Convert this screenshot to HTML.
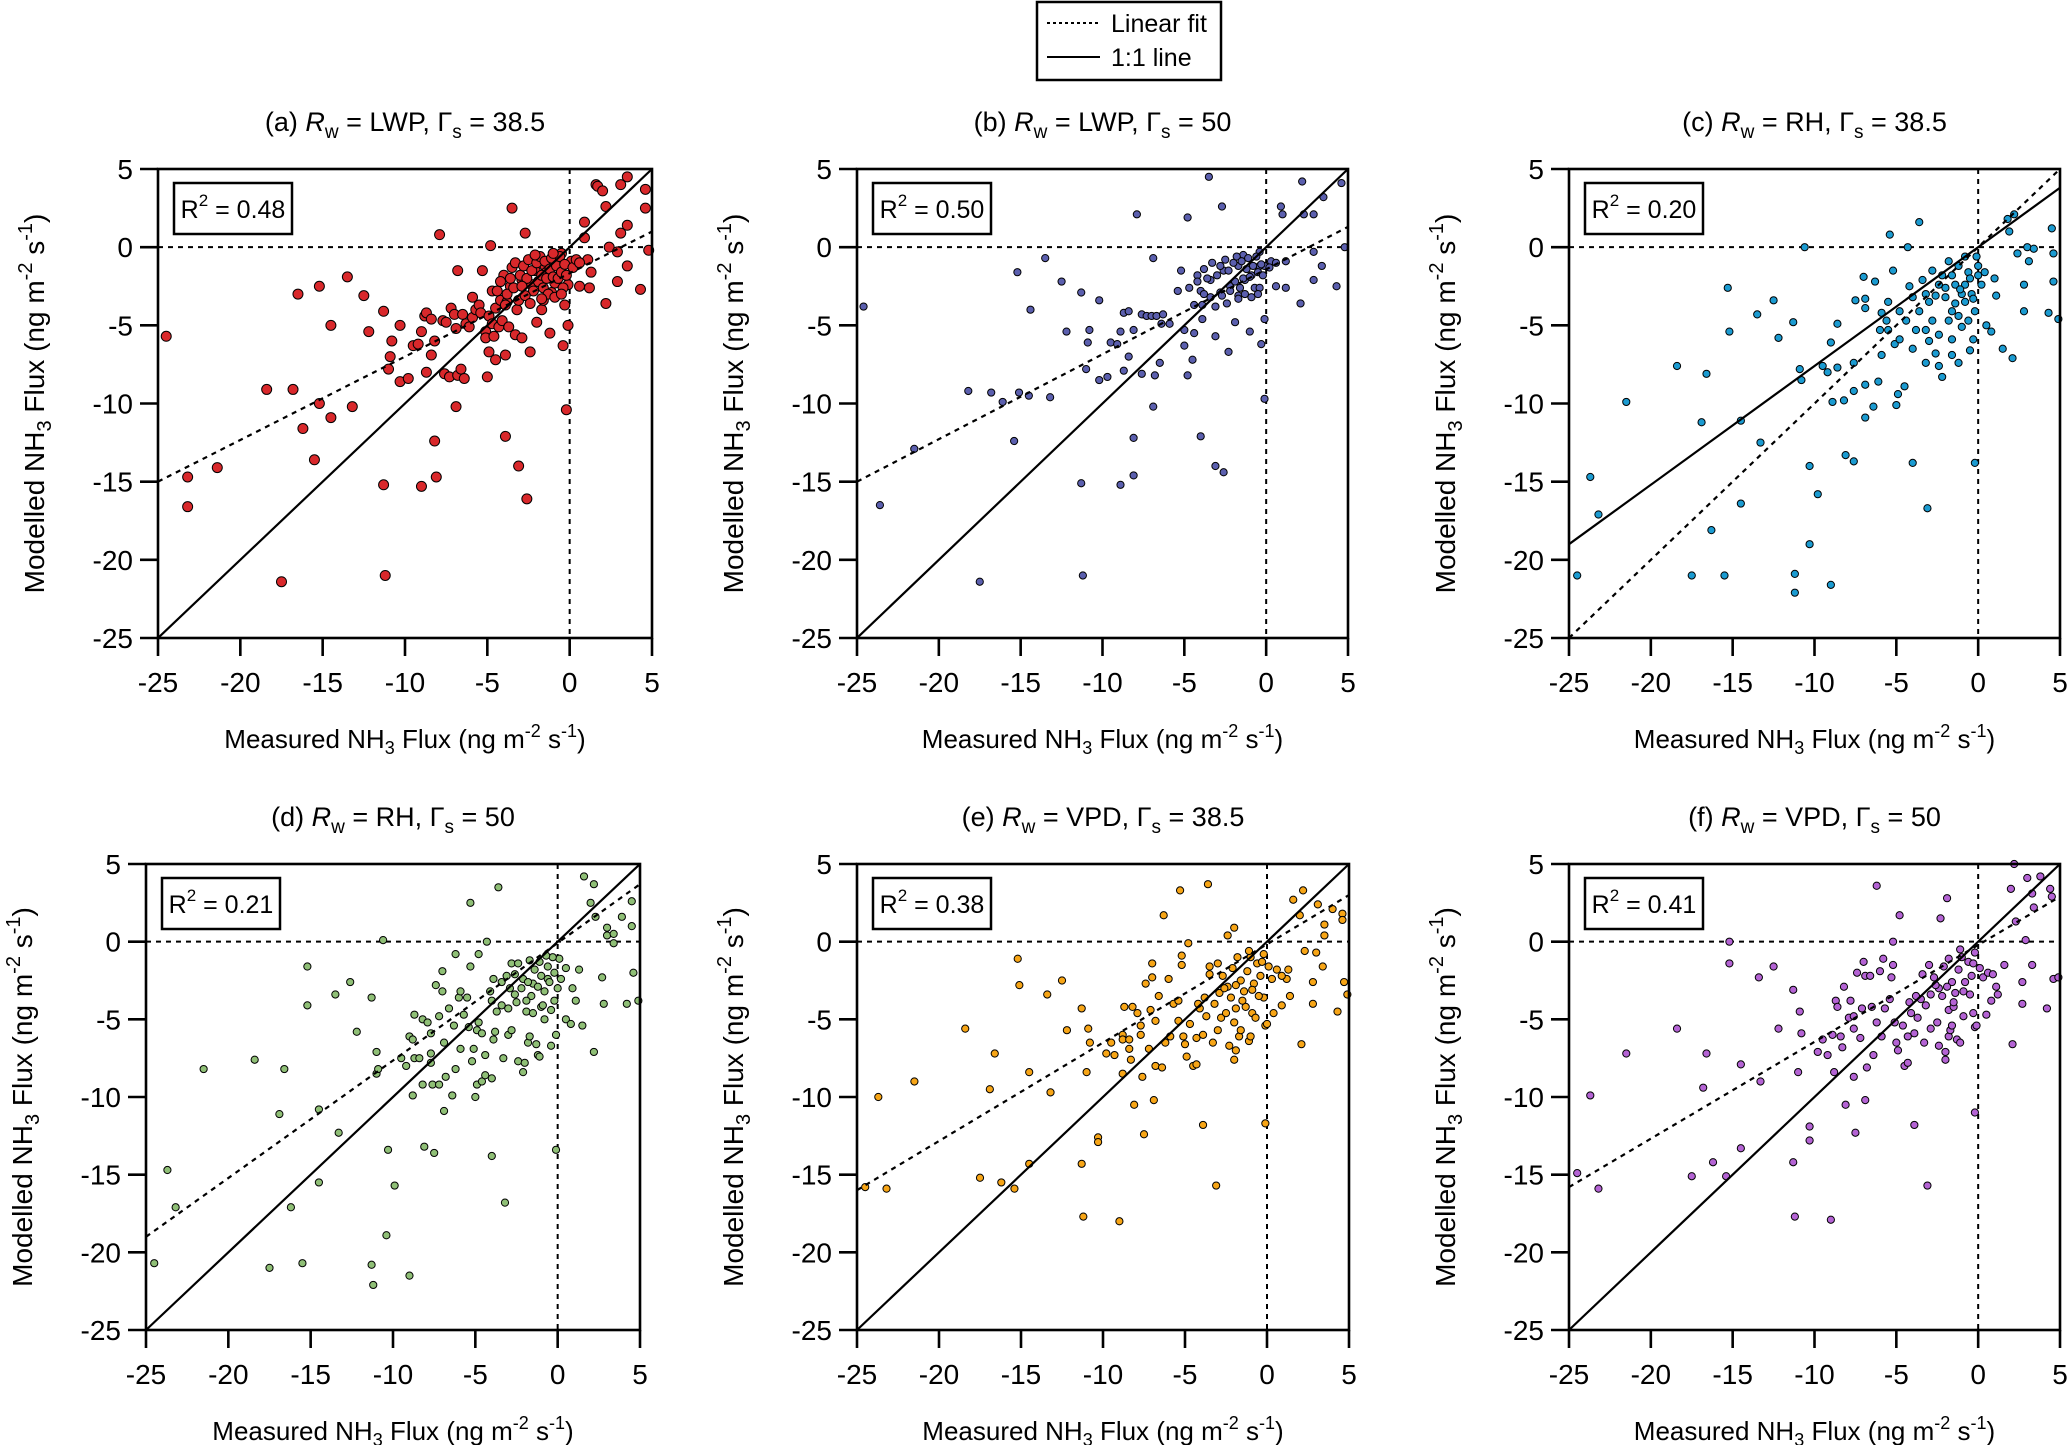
<!DOCTYPE html>
<html><head><meta charset="utf-8"><style>
html,body{margin:0;padding:0;background:#fff;}
svg{display:block;font-family:"Liberation Sans",Arial,sans-serif;}
</style></head><body>
<svg id="fig" width="2067" height="1445" viewBox="0 0 2067 1445" xmlns="http://www.w3.org/2000/svg">
<rect width="2067" height="1445" fill="#fff"/>
<g>
<rect x="1037" y="2" width="184" height="78" fill="#fff" stroke="#000" stroke-width="2.5"/>
<line x1="1047" y1="23" x2="1100" y2="23" stroke="#000" stroke-width="2" stroke-dasharray="3,3"/>
<text x="1111" y="32" font-size="25">Linear fit</text>
<line x1="1047" y1="57" x2="1100" y2="57" stroke="#000" stroke-width="2"/>
<text x="1111" y="66" font-size="25">1:1 line</text>
</g>
</svg>
<script>
const xTicks = [-25,-20,-15,-10,-5,0,5];
const yTicks = [-25,-20,-15,-10,-5,0,5];
const titlesLabel = ["(a)","(b)","(c)","(d)","(e)","(f)"];
const titlesRw = ["LWP","LWP","RH","RH","VPD","VPD"];
const titlesGamma = ["38.5","50","38.5","50","38.5","50"];
const r2Values = ["0.48","0.50","0.20","0.21","0.38","0.41"];
const fitA = [[-25,-15],[5,1]];
const fitB = [[-25,-15],[5,1.3]];
const fitC = [[-25,-25],[5,5]];
const fitD = [[-25,-19],[5,3.7]];
const fitE = [[-25,-16],[5,3]];
const fitF = [[-25,-15.8],[5,2.9]];
const solidA = [[-25,-25],[5,5]];
const solidC = [[-25,-19],[5,3.8]];
const pointsA = [[-24.5,-5.7],[-23.2,-16.6],[-23.2,-14.7],[-21.4,-14.1],[-18.4,-9.1],[-17.5,-21.4],[-16.8,-9.1],[-16.5,-3.0],[-16.2,-11.6],[-15.5,-13.6],[-15.2,-2.5],[-15.2,-10.0],[-14.5,-5.0],[-14.5,-10.9],[-13.5,-1.9],[-13.2,-10.2],[-12.5,-3.1],[-12.2,-5.4],[-11.3,-4.1],[-11.3,-15.2],[-11.2,-21.0],[-11.0,-7.8],[-10.9,-7.0],[-10.8,-6.0],[-10.3,-8.6],[-10.3,-5.0],[-9.8,-8.4],[-9.5,-6.3],[-9.2,-6.2],[-9.0,-15.3],[-9.0,-5.4],[-8.8,-4.4],[-8.7,-4.2],[-8.4,-4.6],[-8.4,-6.9],[-8.2,-12.4],[-8.2,-6.0],[-8.1,-14.7],[-8.7,-8.0],[-7.9,0.8],[-7.7,-4.7],[-7.6,-8.1],[-7.5,-4.8],[-7.3,-8.3],[-7.2,-3.9],[-7.0,-4.3],[-6.9,-10.2],[-6.8,-1.5],[-6.9,-5.2],[-6.8,-8.2],[-6.6,-7.8],[-6.5,-4.3],[-6.4,-8.4],[-6.3,-4.9],[-6.1,-5.1],[-5.9,-3.2],[-5.9,-4.5],[-5.7,-4.0],[-5.5,-3.7],[-5.4,-4.2],[-5.3,-1.5],[-5.1,-5.4],[-5.1,-5.8],[-5.0,-8.3],[-4.9,-4.4],[-4.9,-6.7],[-4.8,0.1],[-4.7,-4.9],[-4.7,-2.8],[-4.6,-5.7],[-4.5,-7.2],[-4.5,-3.9],[-4.4,-2.8],[-4.3,-5.1],[-4.2,-3.4],[-4.1,-4.7],[-4.0,-1.8],[-3.9,-12.1],[-3.9,-6.9],[-3.8,-3.5],[-3.7,-5.1],[-3.6,-2.5],[-3.5,2.5],[-3.5,-1.3],[-3.3,-5.6],[-3.2,-4.0],[-3.1,-14.0],[-2.9,-5.8],[-2.9,-2.1],[-2.7,0.9],[-2.6,-16.1],[-2.4,-6.7],[-2.3,-2.4],[-2.1,-1.5],[-2.0,-4.8],[-1.7,-4.0],[-1.6,-3.4],[-1.5,-1.2],[-1.4,-1.6],[-1.2,-5.5],[-1.1,-2.9],[-0.9,-2.3],[-0.7,-0.9],[-0.5,-0.4],[-0.4,-6.3],[-0.3,-3.7],[-0.2,-10.4],[-0.1,-5.0],[-0.1,-2.4],[0.1,-0.9],[0.6,-2.5],[0.9,0.6],[0.9,1.6],[1.1,-0.8],[1.2,-2.6],[1.3,-1.6],[1.6,4.0],[1.7,3.9],[2.0,3.6],[2.2,2.6],[2.2,-3.6],[2.4,0.0],[2.9,-0.3],[2.9,-2.2],[3.1,4.0],[3.1,0.9],[3.5,4.5],[3.5,1.4],[3.5,-1.2],[4.3,-2.7],[4.6,3.7],[4.6,2.5],[4.8,-0.2],[-3.3,-1.0],[-3.0,-1.8],[-2.8,-1.2],[-2.6,-2.0],[-2.5,-0.8],[-2.3,-1.5],[-2.2,-2.8],[-2.0,-1.0],[-1.9,-2.2],[-1.8,-0.6],[-1.7,-1.8],[-1.6,-2.6],[-1.5,-0.9],[-1.4,-2.0],[-1.3,-3.0],[-1.2,-1.4],[-1.1,-0.7],[-1.0,-1.9],[-0.9,-3.2],[-0.8,-1.2],[-0.7,-2.0],[-0.6,-0.6],[-0.5,-1.6],[-0.4,-2.6],[-0.3,-1.1],[-0.2,-1.8],[-3.6,-2.0],[-3.8,-3.0],[-3.4,-2.6],[-3.1,-3.4],[-2.7,-3.1],[-2.4,-3.6],[-4.2,-2.2],[-3.9,-3.7],[-2.1,-0.5],[-1.0,-0.4],[0.2,-1.3],[0.4,-0.8],[0.6,-1.0],[-0.5,-3.0],[-1.7,-3.3],[-2.9,-2.5]];
const pointsB = [[-24.6,-3.8],[-23.6,-16.5],[-21.5,-12.9],[-18.2,-9.2],[-17.5,-21.4],[-16.8,-9.3],[-16.1,-9.9],[-15.4,-12.4],[-15.1,-9.3],[-14.5,-9.5],[-13.2,-9.6],[-3.5,4.5],[2.2,4.2],[3.5,3.2],[4.6,4.1],[-2.7,2.6],[-7.9,2.1],[-4.8,1.9],[0.9,2.6],[1.0,2.1],[2.3,2.1],[2.9,2.1],[4.8,0.0],[2.9,-0.3],[3.4,-1.2],[4.3,-2.5],[2.9,-2.1],[2.1,-3.6],[1.2,-2.6],[0.6,-2.5],[-6.9,-0.7],[-5.2,-1.5],[-12.5,-2.2],[-13.5,-0.7],[-15.2,-1.6],[-11.3,-2.9],[-10.2,-3.4],[-14.4,-4.0],[-12.2,-5.4],[-10.8,-5.3],[-10.9,-6.1],[-9.5,-6.1],[-9.1,-6.2],[-8.9,-5.4],[-8.7,-4.2],[-8.4,-4.1],[-8.1,-5.3],[-7.6,-4.3],[-7.3,-4.4],[-7.0,-4.4],[-6.7,-4.4],[-6.3,-4.3],[-6.4,-4.9],[-5.9,-4.9],[-8.4,-7.0],[-8.7,-7.9],[-11.0,-7.8],[-10.2,-8.5],[-9.7,-8.3],[-7.6,-8.1],[-6.8,-8.2],[-6.5,-7.4],[-4.8,-8.2],[-6.9,-10.2],[-2.3,-6.7],[-4.5,-7.2],[-4.0,-12.1],[-3.1,-14.0],[-2.6,-14.4],[-8.1,-12.2],[-8.1,-14.6],[-8.9,-15.2],[-11.3,-15.1],[-11.2,-21.0],[-0.1,-9.7],[-0.3,-6.2],[-0.1,-4.6],[-1.0,-5.4],[-1.9,-4.8],[-3.1,-5.7],[-3.9,-4.6],[-4.4,-5.5],[-5.0,-5.3],[-5.0,-6.3],[-4.4,-3.7],[-4.2,-1.8],[-3.8,-1.4],[-1.4,-0.5],[-0.4,-0.3],[-0.4,-1.2],[-1.3,-2.1],[-2.2,-2.5],[-2.8,-2.9],[-3.4,-3.2],[-4.0,-2.8],[-3.4,-2.1],[-2.6,-1.5],[-1.7,-1.2],[-0.9,-1.8],[-0.1,-1.2],[0.3,-0.9],[1.2,-0.9],[-5.4,-2.8],[-4.7,-2.6],[-3.1,-3.8],[-1.7,-3.1],[-0.7,-2.6],[-3.3,-1.0],[-3.0,-1.8],[-2.8,-1.2],[-2.5,-0.8],[-2.3,-1.5],[-2.2,-2.8],[-2.0,-1.0],[-1.9,-2.2],[-1.8,-0.6],[-1.6,-2.6],[-1.5,-0.9],[-1.4,-2.0],[-1.3,-3.0],[-1.2,-1.4],[-1.1,-0.7],[-1.0,-1.9],[-0.9,-3.2],[-0.8,-1.2],[-0.6,-0.6],[-0.5,-1.6],[-0.4,-2.6],[-0.3,-1.1],[-0.2,-1.8],[-3.6,-2.0],[-3.8,-3.0],[-2.7,-3.1],[-2.4,-3.6],[-4.2,-2.2],[-3.9,-3.7],[0.2,-1.3],[0.6,-1.0],[-0.5,-3.0],[-1.7,-3.3]];
const pointsC = [[-24.5,-21.0],[-23.7,-14.7],[-23.2,-17.1],[-21.5,-9.9],[-18.4,-7.6],[-17.5,-21.0],[-16.9,-11.2],[-16.6,-8.1],[-16.3,-18.1],[-15.5,-21.0],[-15.3,-2.6],[-15.2,-5.4],[-14.5,-11.1],[-14.5,-16.4],[-13.5,-4.3],[-13.3,-12.5],[-12.5,-3.4],[-12.2,-5.8],[-11.3,-4.8],[-11.2,-20.9],[-11.2,-22.1],[-10.9,-7.8],[-10.8,-8.5],[-10.6,0.0],[-10.3,-14.0],[-10.3,-19.0],[-9.8,-15.8],[-9.5,-7.6],[-9.2,-8.0],[-9.0,-21.6],[-8.9,-9.9],[-9.0,-6.1],[-8.6,-4.9],[-8.6,-7.7],[-8.2,-9.8],[-8.1,-13.3],[-7.6,-7.4],[-7.6,-9.2],[-7.6,-13.7],[-7.5,-3.4],[-7.0,-1.9],[-6.9,-3.3],[-6.9,-3.9],[-6.9,-8.8],[-6.9,-10.9],[-6.4,-10.2],[-6.1,-8.6],[-6.3,-2.2],[-5.9,-6.9],[-5.9,-4.2],[-5.5,-3.5],[-5.5,-5.3],[-5.4,0.8],[-5.2,-1.5],[-5.1,-6.2],[-4.9,-9.4],[-5.0,-10.1],[-4.5,-8.9],[-4.2,-2.5],[-4.0,-13.8],[-3.6,1.6],[-4.3,0.0],[-3.1,-16.7],[-3.2,-7.4],[-3.0,-6.0],[-2.6,-6.8],[-2.4,-7.6],[-2.2,-8.3],[-1.6,-6.9],[-1.2,-7.4],[-1.0,-5.1],[-0.5,-6.6],[-0.2,-13.8],[-0.3,-5.9],[0.5,-5.0],[0.8,-5.4],[1.5,-6.5],[2.1,-7.1],[1.1,-3.1],[1.0,-2.0],[1.9,1.0],[1.8,1.8],[2.2,2.1],[2.4,-0.4],[3.0,0.0],[3.4,-0.1],[3.1,-0.9],[2.8,-2.4],[2.8,-4.1],[4.3,-4.2],[4.5,1.2],[4.6,-0.4],[4.6,-2.2],[4.9,-4.6],[-0.8,-0.6],[-1.6,-1.8],[-0.8,-2.4],[0.0,-1.2],[-2.4,-2.4],[-2.0,-3.2],[-3.2,-3.0],[-3.6,-4.1],[-2.8,-4.7],[-1.6,-4.1],[-0.8,-3.5],[-0.4,-3.0],[0.0,-1.8],[-1.2,-1.2],[-1.8,-0.9],[-2.8,-1.5],[-3.4,-2.1],[-4.0,-3.2],[-4.4,-4.7],[-4.8,-4.1],[-5.6,-4.7],[-6.0,-5.3],[-3.8,-5.3],[-2.4,-5.6],[-1.6,-5.9],[-0.6,-4.7],[-0.2,-4.1],[0.2,-2.4],[0.4,-1.6],[-1.0,-3.0],[-1.4,-2.4],[-2.2,-1.8],[-3.0,-3.5],[-2.6,-3.1],[-0.6,-1.6],[-0.1,-0.6],[-1.8,-4.7],[-1.2,-4.4],[-3.2,-5.3],[-4.8,-5.9],[-4.0,-6.5],[-1.1,-2.7],[-0.5,-2.0],[-2.0,-2.6],[-1.4,-3.6],[-0.3,-3.3]];
const pointsD = [[-24.5,-20.7],[-23.7,-14.7],[-23.2,-17.1],[-21.5,-8.2],[-18.4,-7.6],[-17.5,-21.0],[-16.9,-11.1],[-16.6,-8.2],[-16.2,-17.1],[-15.5,-20.7],[-15.2,-1.6],[-15.2,-4.1],[-14.5,-10.8],[-14.5,-15.5],[-13.5,-3.4],[-13.3,-12.3],[-12.6,-2.6],[-12.2,-5.8],[-11.3,-20.8],[-11.2,-22.1],[-11.3,-3.6],[-11.0,-7.1],[-11.0,-8.5],[-10.9,-8.2],[-10.6,0.1],[-10.3,-13.4],[-10.4,-18.9],[-9.9,-15.7],[-9.5,-7.5],[-9.2,-8.0],[-9.0,-21.5],[-9.0,-6.1],[-8.8,-9.9],[-8.8,-6.3],[-8.7,-4.7],[-8.7,-7.5],[-8.4,-7.5],[-8.2,-9.2],[-8.1,-13.2],[-8.2,-5.0],[-7.9,-5.2],[-7.7,-5.9],[-7.7,-7.2],[-7.7,-7.8],[-7.6,-9.2],[-7.5,-13.6],[-7.4,-2.8],[-7.2,-9.2],[-7.2,-4.8],[-7.0,-3.2],[-7.0,-1.9],[-6.9,-10.9],[-6.9,-6.5],[-6.8,-8.7],[-6.6,-4.3],[-6.4,-9.9],[-6.3,-5.4],[-6.2,-0.8],[-6.2,-8.2],[-6.0,-3.6],[-5.9,-6.9],[-5.9,-3.2],[-5.7,-4.7],[-5.5,-3.6],[-5.4,-5.5],[-5.3,2.5],[-5.3,-1.6],[-5.2,-7.7],[-5.1,-6.9],[-5.0,-10.0],[-4.9,-5.7],[-4.9,-9.2],[-4.8,-0.8],[-4.8,-5.2],[-4.6,-9.0],[-4.6,-5.9],[-4.4,-8.6],[-4.4,-7.3],[-4.3,0.0],[-4.1,-3.2],[-4.0,-3.8],[-4.0,-8.8],[-4.0,-13.8],[-3.9,-2.4],[-3.9,-6.3],[-3.8,-5.8],[-3.6,3.5],[-3.4,-4.1],[-3.3,-7.5],[-3.2,-16.8],[-3.1,-2.2],[-3.0,-6.0],[-3.0,-4.3],[-2.8,-1.4],[-2.8,-5.7],[-2.6,-3.4],[-2.4,-1.4],[-2.4,-7.7],[-2.1,-2.4],[-2.1,-8.4],[-2.0,-7.8],[-1.9,-4.5],[-1.8,-6.5],[-1.7,-1.2],[-1.7,-6.1],[-1.5,-2.7],[-1.3,-6.6],[-1.2,-7.3],[-1.1,-7.4],[-1.0,-4.2],[-0.8,-5.0],[-0.6,-2.4],[-0.4,-6.7],[-0.2,-3.8],[-0.1,-13.4],[-0.1,-6.0],[0.1,-1.1],[0.5,-5.0],[0.8,-5.3],[0.9,-3.0],[1.1,-3.8],[1.3,-1.8],[1.5,-5.4],[1.6,4.2],[2.0,2.5],[2.2,-7.1],[2.2,3.7],[2.3,1.6],[2.7,-2.3],[2.8,-4.0],[3.0,0.9],[3.0,0.4],[3.4,-0.1],[3.4,0.5],[3.9,1.6],[4.2,-4.0],[4.5,2.6],[4.5,1.0],[4.6,-2.0],[4.9,-3.8],[-1.4,-1.8],[-1.0,-2.2],[-0.6,-1.6],[-0.3,-1.0],[-1.8,-2.6],[-2.2,-3.0],[-0.8,-3.2],[-1.2,-2.9],[-0.5,-2.6],[-2.6,-2.1],[-0.2,-2.0],[0.2,-2.4],[0.5,-1.7],[-1.6,-3.5],[-2.9,-3.0],[-3.4,-2.6],[-1.9,-3.8],[-0.7,-0.9],[-1.1,-1.3],[-0.9,-4.1],[-2.5,-3.9],[-3.7,-4.5],[-0.4,-4.4],[0.0,-3.0],[-1.5,-4.6]];
const pointsE = [[-24.5,-15.8],[-23.7,-10.0],[-23.2,-15.9],[-21.5,-9.0],[-18.4,-5.6],[-17.5,-15.2],[-16.9,-9.5],[-16.6,-7.2],[-16.2,-15.5],[-15.4,-15.9],[-15.2,-1.1],[-15.1,-2.8],[-14.5,-8.4],[-14.5,-14.3],[-13.4,-3.4],[-13.2,-9.7],[-12.5,-2.5],[-12.2,-5.7],[-11.3,-4.3],[-11.3,-14.3],[-11.2,-17.7],[-11.0,-8.4],[-10.9,-5.6],[-10.8,-6.5],[-10.3,-12.6],[-10.3,-12.9],[-9.8,-7.2],[-9.5,-6.5],[-9.3,-7.3],[-9.0,-18.0],[-8.8,-6.0],[-8.8,-8.5],[-8.8,-6.3],[-8.7,-4.2],[-8.4,-6.3],[-8.4,-6.9],[-8.3,-7.6],[-8.2,-4.2],[-8.1,-10.5],[-7.9,-4.6],[-7.7,-5.4],[-7.7,-6.0],[-7.6,-8.7],[-7.5,-12.4],[-7.4,-2.7],[-7.2,-6.9],[-7.1,-4.4],[-7.0,-1.4],[-7.0,-2.3],[-6.9,-10.2],[-6.8,-8.0],[-6.8,-5.1],[-6.6,-3.5],[-6.4,-8.1],[-6.3,1.7],[-6.2,-6.5],[-6.0,-2.4],[-5.9,-6.1],[-5.7,-4.0],[-5.4,-3.8],[-5.4,-5.1],[-5.3,3.3],[-5.2,-1.5],[-5.2,-0.9],[-5.1,-6.1],[-5.0,-6.6],[-4.9,-7.4],[-4.8,-0.1],[-4.7,-5.3],[-4.5,-8.0],[-4.3,-7.9],[-4.3,-6.2],[-4.1,-4.3],[-3.9,-11.8],[-3.9,-6.0],[-3.7,-4.8],[-3.6,3.7],[-3.5,-1.6],[-3.3,-6.5],[-3.1,-15.7],[-3.0,-5.7],[-2.8,-4.9],[-2.5,-4.6],[-2.4,0.4],[-2.3,-6.7],[-2.0,-5.2],[-2.0,-7.6],[-2.0,0.9],[-1.9,-7.0],[-1.9,-4.3],[-1.7,-6.1],[-1.6,-5.7],[-1.3,-4.2],[-1.1,-6.4],[-1.0,-6.1],[-0.9,-4.6],[-0.7,-4.9],[-0.2,-3.6],[-0.1,-11.7],[-0.1,-5.4],[0.0,-5.3],[0.4,-4.6],[0.9,-4.1],[1.2,-2.4],[1.3,-1.8],[1.4,-3.5],[1.6,2.7],[2.0,1.7],[2.1,-6.6],[2.2,3.3],[2.3,-0.6],[2.8,-2.6],[2.8,-4.0],[3.0,-0.7],[3.1,2.4],[3.4,-1.6],[3.5,1.1],[3.5,0.4],[4.0,2.1],[4.3,-4.5],[4.6,1.8],[4.6,1.4],[4.7,-2.6],[4.9,-3.4],[-3.5,-2.1],[-3.0,-1.4],[-2.7,-2.2],[-2.4,-2.9],[-2.1,-1.7],[-1.8,-1.0],[-1.6,-2.5],[-1.4,-3.2],[-1.2,-1.9],[-1.0,-1.0],[-0.8,-2.7],[-0.6,-1.4],[-0.4,-2.2],[-0.2,-0.8],[0.1,-1.6],[0.3,-2.4],[0.6,-1.8],[0.9,-2.2],[-2.9,-3.3],[-3.2,-4.0],[-2.2,-3.6],[-1.5,-3.8],[-0.9,-3.1],[-0.5,-3.5],[-3.8,-3.6],[-4.2,-4.0],[-1.9,-2.8],[-2.6,-3.0],[-0.3,-1.3],[-1.1,-0.6]];
const pointsF = [[-24.5,-14.9],[-23.7,-9.9],[-23.2,-15.9],[-21.5,-7.2],[-18.4,-5.6],[-17.5,-15.1],[-16.8,-9.4],[-16.6,-7.2],[-16.2,-14.2],[-15.4,-15.1],[-15.2,0.0],[-15.2,-1.4],[-14.5,-7.9],[-14.5,-13.3],[-13.4,-2.3],[-13.3,-9.0],[-12.5,-1.6],[-12.2,-5.6],[-11.3,-3.1],[-11.3,-14.2],[-11.2,-17.7],[-11.0,-8.4],[-10.9,-4.5],[-10.8,-5.9],[-10.3,-11.9],[-10.3,-12.8],[-9.8,-7.1],[-9.5,-6.3],[-9.2,-7.3],[-9.0,-17.9],[-8.9,-6.0],[-8.8,-8.4],[-8.7,-3.8],[-8.6,-4.2],[-8.4,-6.1],[-8.3,-6.8],[-8.2,-2.9],[-8.1,-10.5],[-7.9,-4.9],[-7.8,-3.8],[-7.6,-4.8],[-7.6,-5.6],[-7.6,-8.7],[-7.5,-12.3],[-7.4,-2.0],[-7.2,-6.2],[-7.1,-4.3],[-7.0,-1.3],[-6.9,-2.2],[-6.9,-10.2],[-6.8,-8.1],[-6.6,-2.2],[-6.5,-4.2],[-6.4,-7.3],[-6.2,3.6],[-6.2,-5.2],[-6.0,-1.9],[-5.9,-6.1],[-5.8,-1.1],[-5.7,-4.3],[-5.4,-3.7],[-5.3,-2.3],[-5.2,0.0],[-5.1,-5.2],[-5.2,-1.5],[-5.0,-6.5],[-4.9,-7.0],[-4.8,1.7],[-4.6,-5.4],[-4.5,-8.0],[-4.3,-7.8],[-4.3,-6.1],[-4.1,-4.6],[-3.9,-11.8],[-3.9,-5.9],[-3.7,-4.9],[-3.5,-3.7],[-3.3,-6.5],[-3.1,-15.7],[-2.9,-5.6],[-2.5,-5.2],[-2.4,-6.7],[-2.3,1.5],[-2.0,-7.1],[-2.0,-7.6],[-1.9,2.8],[-1.8,-4.4],[-1.8,-6.1],[-1.7,-5.7],[-1.6,-5.4],[-1.5,-4.2],[-1.3,-6.3],[-1.1,-6.5],[-0.9,-4.8],[-0.3,-4.6],[-0.2,-11.0],[-0.2,-5.5],[-0.1,-5.4],[0.5,-4.7],[0.8,-3.8],[1.2,-3.4],[1.1,-2.9],[1.6,-1.5],[2.0,3.4],[2.1,-6.6],[2.2,5.0],[2.3,1.3],[2.7,-2.6],[2.7,-4.0],[2.9,0.1],[3.0,4.1],[3.3,-1.5],[3.3,3.1],[3.4,2.2],[3.8,4.2],[4.2,-4.3],[4.4,3.4],[4.5,2.9],[4.6,-2.4],[4.9,-2.3],[-3.4,-2.1],[-3.0,-1.5],[-2.7,-2.3],[-2.4,-3.0],[-2.1,-1.6],[-1.8,-1.1],[-1.6,-2.6],[-1.4,-3.3],[-1.2,-1.8],[-1.0,-1.0],[-0.8,-2.6],[-0.6,-1.3],[-0.4,-2.2],[-0.2,-0.7],[0.1,-1.7],[0.3,-2.3],[0.6,-2.0],[0.9,-2.1],[-2.9,-3.4],[-3.2,-4.1],[-2.2,-3.5],[-1.5,-3.9],[-0.9,-3.2],[-0.5,-3.4],[-3.8,-3.5],[-4.2,-3.9],[-1.9,-2.9],[-2.6,-2.8],[-0.3,-1.4],[-1.1,-0.5]];

const NS = "http://www.w3.org/2000/svg";
const svg = document.getElementById("fig");
function mk(tag, attrs, parent){
  const e = document.createElementNS(NS, tag);
  for (const k in attrs) e.setAttribute(k, attrs[k]);
  (parent||svg).appendChild(e);
  return e;
}
const layout = [
  {l:158, t:169, w:494, h:469, fill:"#d9282b", r:5,   pts:pointsA, fit:fitA, solid:solidA},
  {l:857, t:169, w:491, h:469, fill:"#5b5fae", r:3.6, pts:pointsB, fit:fitB, solid:solidA},
  {l:1569,t:169, w:491, h:469, fill:"#1b9bd1", r:3.6, pts:pointsC, fit:fitC, solid:solidC},
  {l:146, t:864, w:494, h:466, fill:"#8fbf76", r:3.6, pts:pointsD, fit:fitD, solid:solidA},
  {l:857, t:864, w:492, h:466, fill:"#f7a516", r:3.6, pts:pointsE, fit:fitE, solid:solidA},
  {l:1569,t:864, w:491, h:466, fill:"#b463d4", r:3.6, pts:pointsF, fit:fitF, solid:solidA}
];
const names = ["a","b","c","d","e","f"];
layout.forEach((p, i) => {
  const g = mk("g", {});
  
  
  const sx = v => p.l + (v + 25) / 30 * p.w;
  const sy = v => p.t + (5 - v) / 30 * p.h;
  const cx = p.l + p.w / 2, cy = p.t + p.h / 2;
  const tt = mk("text", {x:cx, y:p.t - 38, "font-size":27, "text-anchor":"middle"}, g);
  
  
  tt.innerHTML = titlesLabel[i] + ' <tspan font-style="italic">R</tspan><tspan font-size="19" dy="7">w</tspan><tspan dy="-7"> = ' + titlesRw[i] + ', Γ</tspan><tspan font-size="19" dy="7">s</tspan><tspan dy="-7"> = ' + titlesGamma[i] + '</tspan>';
  const zx = mk("line", {x1:sx(0), y1:p.t, x2:sx(0), y2:p.t+p.h, stroke:"#000", "stroke-width":2, "stroke-dasharray":"5,5"}, g);
  
  
  const zy = mk("line", {x1:p.l, y1:sy(0), x2:p.l+p.w, y2:sy(0), stroke:"#000", "stroke-width":2, "stroke-dasharray":"5,5"}, g);
  
  
  p.pts.forEach(pt => {
    const c = mk("circle", {cx:sx(pt[0]), cy:sy(pt[1]), r:p.r, fill:p.fill, stroke:"#000", "stroke-width":1}, g);
    
    
  });
  const sl = mk("line", {x1:sx(p.solid[0][0]), y1:sy(p.solid[0][1]), x2:sx(p.solid[1][0]), y2:sy(p.solid[1][1]), stroke:"#000", "stroke-width":2.2}, g);
  
  
  const fl = mk("line", {x1:sx(p.fit[0][0]), y1:sy(p.fit[0][1]), x2:sx(p.fit[1][0]), y2:sy(p.fit[1][1]), stroke:"#000", "stroke-width":2.2, "stroke-dasharray":"5,5"}, g);
  
  
  const fr = mk("rect", {x:p.l, y:p.t, width:p.w, height:p.h, fill:"none", stroke:"#000", "stroke-width":2.6}, g);
  
  
  xTicks.forEach(v => {
    const tl = mk("line", {x1:sx(v), y1:p.t+p.h, x2:sx(v), y2:p.t+p.h+18, stroke:"#000", "stroke-width":2.6}, g);
    
    
    const tx = mk("text", {x:sx(v), y:p.t+p.h+54, "font-size":28, "text-anchor":"middle"}, g);
    
    
    tx.textContent = String(v);
  });
  yTicks.forEach(v => {
    const tl = mk("line", {x1:p.l-18, y1:sy(v), x2:p.l, y2:sy(v), stroke:"#000", "stroke-width":2.6}, g);
    
    
    const ty = mk("text", {x:p.l-25, y:sy(v)+10, "font-size":28, "text-anchor":"end"}, g);
    
    
    ty.textContent = String(v);
  });
  const xt = mk("text", {x:cx, y:p.t+p.h+110, "font-size":26, "text-anchor":"middle"}, g);
  
  
  xt.innerHTML = 'Measured NH<tspan font-size="18" dy="6">3</tspan><tspan dy="-6"> Flux (ng m</tspan><tspan font-size="18" dy="-11">-2</tspan><tspan dy="11"> s</tspan><tspan font-size="18" dy="-11">-1</tspan><tspan dy="11">)</tspan>';
  const yt = mk("text", {x:0, y:0, "font-size":28, "text-anchor":"middle", transform:"translate(" + (p.l-114) + "," + cy + ") rotate(-90)"}, g);
  
  
  yt.innerHTML = 'Modelled NH<tspan font-size="20" dy="7">3</tspan><tspan dy="-7"> Flux (ng m</tspan><tspan font-size="20" dy="-12">-2</tspan><tspan dy="12"> s</tspan><tspan font-size="20" dy="-12">-1</tspan><tspan dy="12">)</tspan>';
  const bx = mk("rect", {x:p.l+16, y:p.t+14, width:118, height:51, fill:"#fff", stroke:"#000", "stroke-width":2.5}, g);
  
  
  const rt = mk("text", {x:p.l+75, y:p.t+49, "font-size":25, "text-anchor":"middle"}, g);
  
  
  rt.innerHTML = 'R<tspan font-size="17" dy="-12">2</tspan><tspan dy="12"> = ' + r2Values[i] + '</tspan>';
});
</script>
</body></html>
